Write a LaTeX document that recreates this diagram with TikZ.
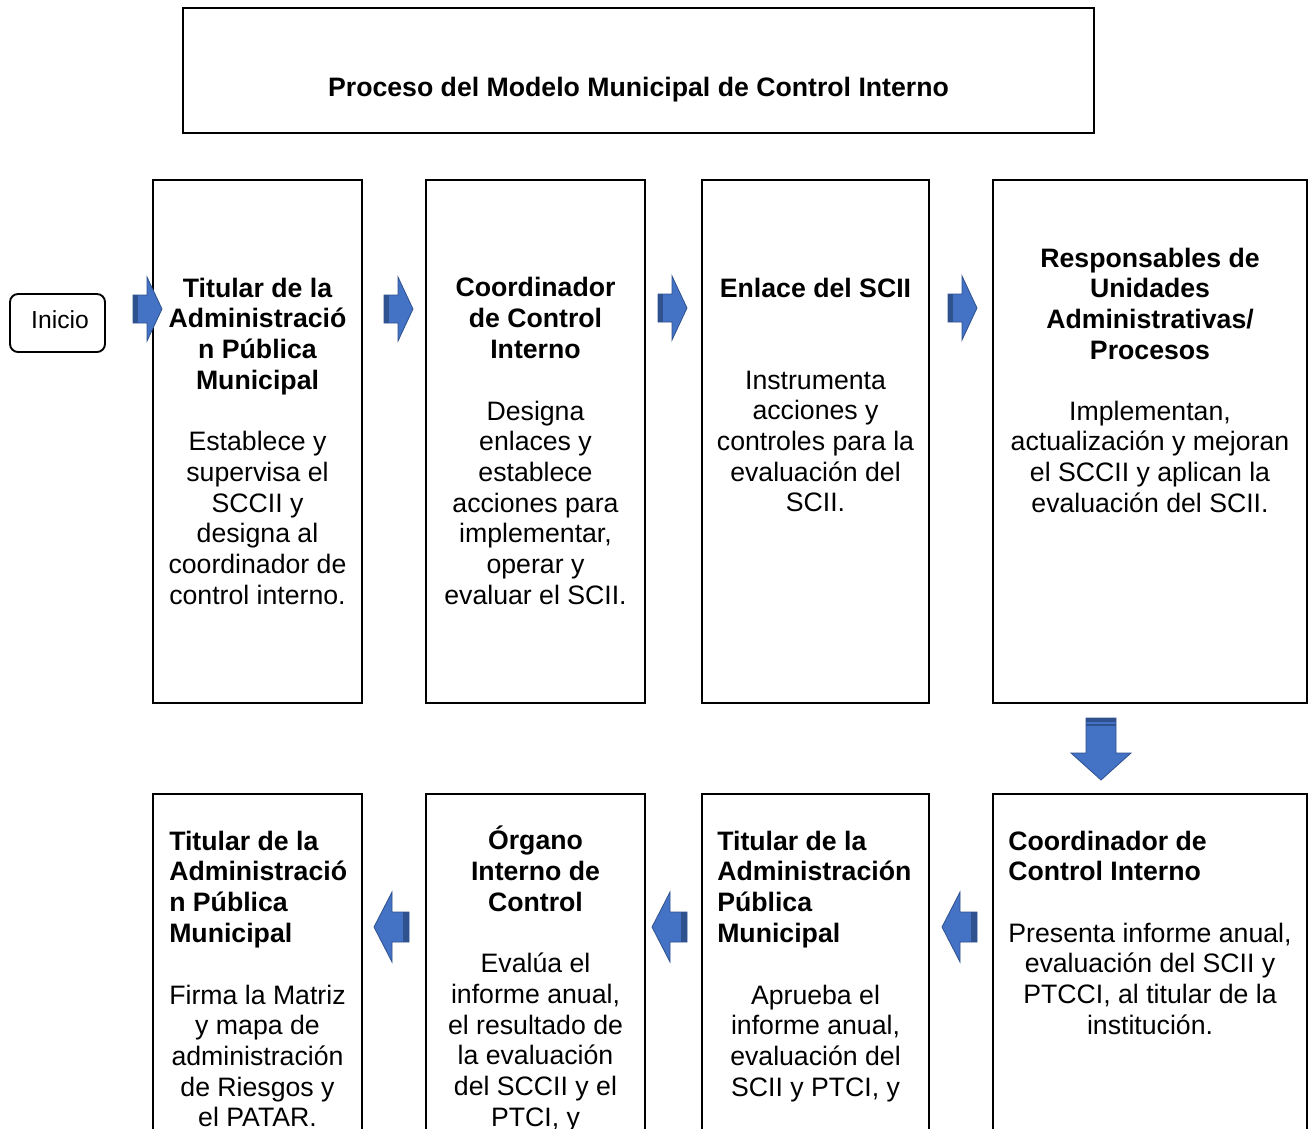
\documentclass[tikz,border=0pt]{standalone}
\usepackage{fontspec}
\setmainfont{Liberation Sans}
\begin{document}
\begin{tikzpicture}[x=0.75pt,y=-0.75pt,
  box/.style={draw=black,line width=1.4pt,inner sep=0pt},
  txt/.style={inner sep=0pt,align=center,anchor=base,font=\fontsize{20}{23}\selectfont},
  ttl/.style={txt,font=\fontsize{20}{23}\selectfont\bfseries},
  ttll/.style={ttl,align=left,anchor=base west},
  afill/.style={fill={rgb,255:red,68;green,114;blue,196},draw={rgb,255:red,47;green,82;blue,143},line width=0.6pt,line join=miter},
  adark/.style={fill={rgb,255:red,47;green,82;blue,143}},
  rblk/.pic={
    \path[afill] (0,-14) -- (14,-14) -- (14,-32) -- (29,0) -- (14,32) -- (14,14) -- (0,14) -- cycle;
    \fill[adark] (0,-14) rectangle (5,14);},
  lblk/.pic={
    \path[afill] (0,-15) -- (-17,-15) -- (-17,-35) -- (-35,0) -- (-17,35) -- (-17,15) -- (0,15) -- cycle;
    \fill[adark] (0,-15) rectangle (-6,15);},
  dblk/.pic={
    \path[afill] (-15,0) -- (-15,35) -- (-30,35) -- (0,62) -- (30,35) -- (15,35) -- (15,0) -- cycle;
    \fill[adark] (-15,0) rectangle (15,4);
    \fill[adark] (-15,6) rectangle (15,8);}
]
\useasboundingbox (0,0) rectangle (1309,1128);
\clip (0,0) rectangle (1309,1128);
\fill[white] (0,0) rectangle (1309,1128);

% title
\draw[box] (183,8) rectangle (1094,133);
\node[ttl] (title) at (638.5,96) {Proceso del Modelo Municipal de Control Interno};

% start
\draw[line width=1.4pt,rounded corners=6pt] (10,294) rectangle (105,352);
\node[txt,font=\fontsize{18.5}{21}\selectfont] (inicio) at (60,328) {Inicio};

% row 1 boxes
\draw[box] (153,180) rectangle (362,703);
\draw[box] (426,180) rectangle (645,703);
\draw[box] (702,180) rectangle (929,703);
\draw[box] (993,180) rectangle (1307,703);

\node[ttl] (t1) at (257.5,389) {Titular de la\\Administració\\n Pública\\Municipal};
\node[txt] (b1) at (257.5,604.3) {Establece y\\supervisa el\\SCCII y\\designa al\\coordinador de\\control interno.};

\node[ttl] (t2) at (535.5,358.3) {Coordinador\\de Control\\Interno};
\node[txt] (b2) at (535.5,604) {Designa\\enlaces y\\establece\\acciones para\\implementar,\\operar y\\evaluar el SCII.};

\node[ttl] (t3) at (815.5,297) {Enlace del SCII};
\node[txt] (b3) at (815.5,511.7) {Instrumenta\\acciones y\\controles para la\\evaluación del\\SCII.};

\node[ttl] (t4) at (1150,359) {Responsables de\\Unidades\\Administrativas/\\Procesos};
\node[txt] (b4) at (1150,512) {Implementan,\\actualización y mejoran\\el SCCII y aplican la\\evaluación del SCII.};

% row 2 boxes
\draw[box] (153,794) rectangle (362,1140);
\draw[box] (426,794) rectangle (645,1140);
\draw[box] (702,794) rectangle (929,1140);
\draw[box] (993,794) rectangle (1307,1140);

\node[ttll] (t5) at (169,942) {Titular de la\\Administració\\n Pública\\Municipal};
\node[txt] (b5) at (257.5,1126.7) {Firma la Matriz\\y mapa de\\administración\\de Riesgos y\\el PATAR.};

\node[ttl] (t6) at (535.5,911.3) {Órgano\\Interno de\\Control};
\node[txt] (b6) at (535.5,1126.3) {Evalúa el\\informe anual,\\el resultado de\\la evaluación\\del SCCII y el\\PTCI, y};

\node[ttll] (t7) at (717,942) {Titular de la\\Administración\\Pública\\Municipal};
\node[txt] (b7) at (815.5,1096) {Aprueba el\\informe anual,\\evaluación del\\SCII y PTCI, y};

\node[ttll] (t8) at (1008,880.7) {Coordinador de\\Control Interno};
\node[txt] (b8) at (1150,1034) {Presenta informe anual,\\evaluación del SCII y\\PTCCI, al titular de la\\institución.};

% block arrows
\pic at (133,309) {rblk};
\pic at (384,309) {rblk};
\pic at (658,308) {rblk};
\pic at (948,308) {rblk};
\pic at (1101,718) {dblk};
\pic at (977,927) {lblk};
\pic at (687,927) {lblk};
\pic at (409,927) {lblk};
\end{tikzpicture}
\end{document}
